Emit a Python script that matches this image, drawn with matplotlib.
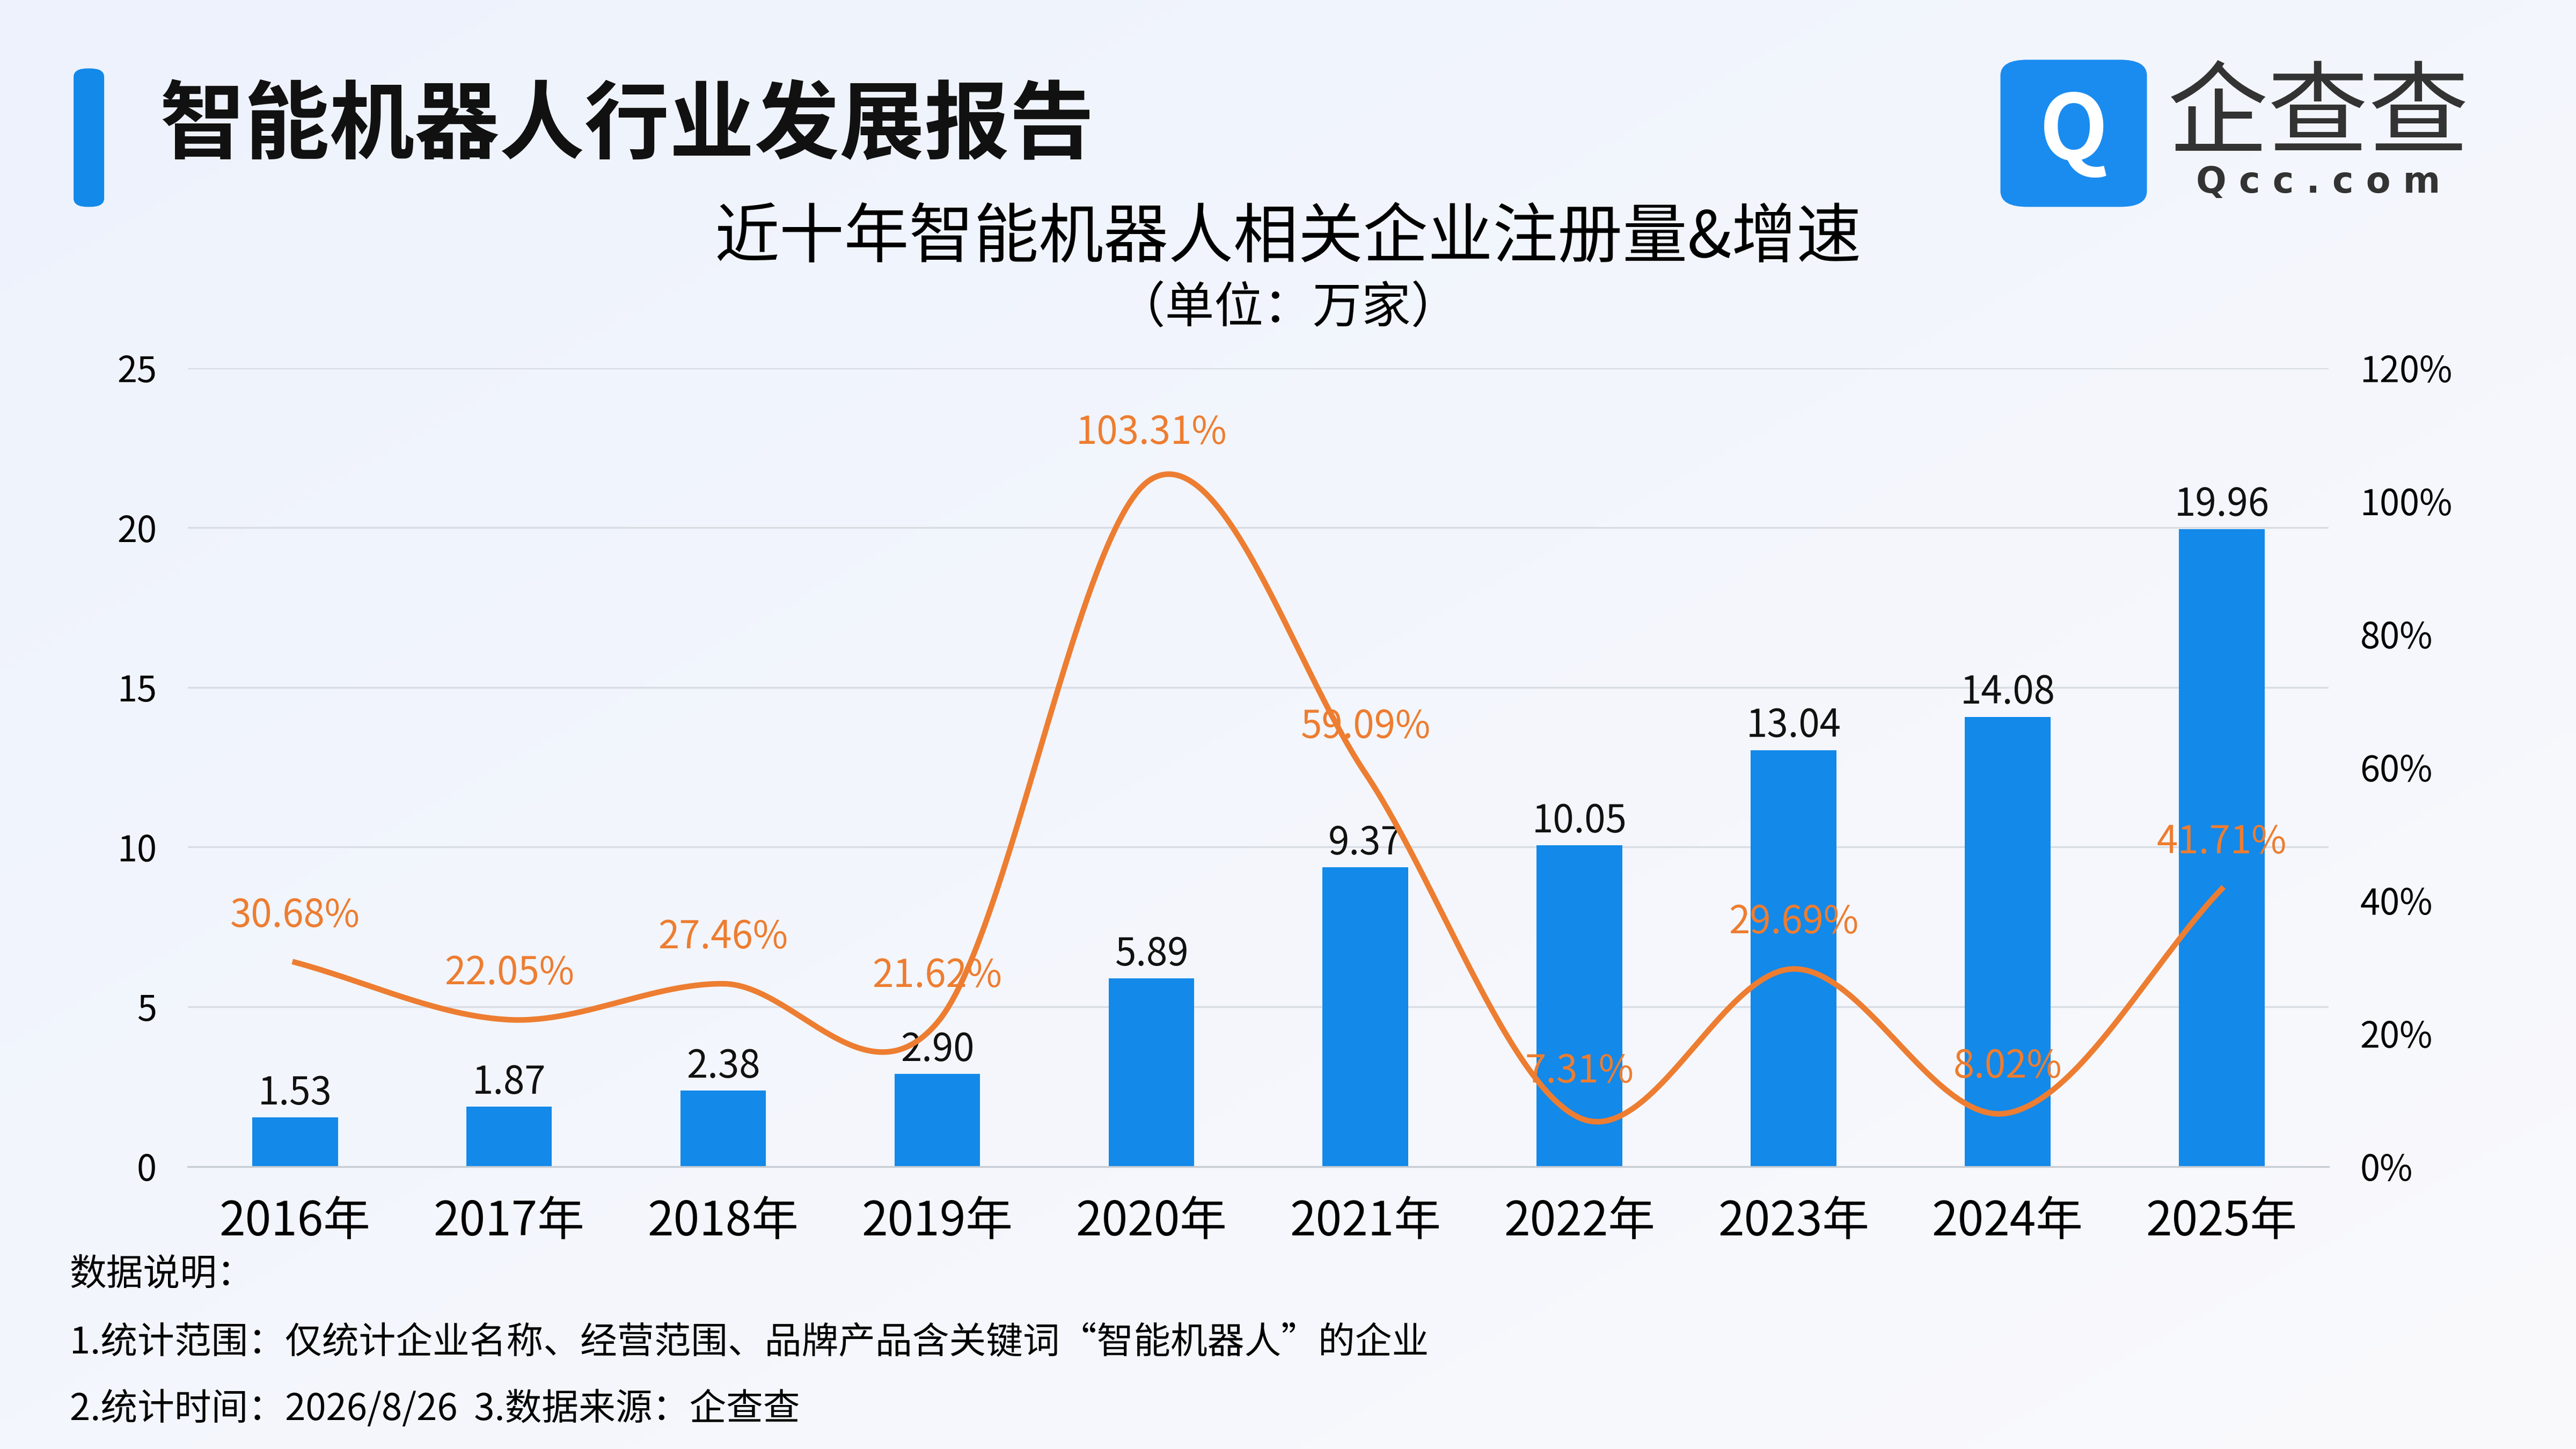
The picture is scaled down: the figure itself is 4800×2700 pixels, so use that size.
import matplotlib
matplotlib.use('Agg')
import matplotlib.pyplot as plt
from matplotlib.patches import FancyBboxPatch
import numpy as np

plt.rcParams['font.family'] = ['Noto Sans CJK SC', 'DejaVu Sans']

years = ['2016年', '2017年', '2018年', '2019年', '2020年', '2021年', '2022年', '2023年', '2024年', '2025年']
counts = [1.53, 1.87, 2.38, 2.90, 5.89, 9.37, 10.05, 13.04, 14.08, 19.96]
growth = [30.68, 22.05, 27.46, 21.62, 103.31, 59.09, 7.31, 29.69, 8.02, 41.71]

BAR = '#1389E9'
LINE = '#ED7D31'


def catmull_rom(x, y, steps=60):
    # smooth curve through the points (display only)
    p = np.column_stack([x, y]).astype(float)
    p = np.vstack([p[0] - (p[1] - p[0]), p, p[-1] + (p[-1] - p[-2])])
    t = np.linspace(0, 1, steps)[:, None]
    out = []
    for i in range(1, len(p) - 2):
        p0, p1, p2, p3 = p[i - 1], p[i], p[i + 1], p[i + 2]
        seg = 0.5 * ((2 * p1) + (-p0 + p2) * t + (2 * p0 - 5 * p1 + 4 * p2 - p3) * t ** 2
                     + (-p0 + 3 * p1 - 3 * p2 + p3) * t ** 3)
        out.append(seg)
    out = np.vstack(out)
    return out[:, 0], out[:, 1]


fig = plt.figure(figsize=(16, 9), dpi=300)
# background gradient
bg = fig.add_axes([0, 0, 1, 1], zorder=-10)
gy, gx = np.mgrid[0:1:200j, 0:1:200j]
r = np.clip(0.5 * gx + 0.5 * (1 - gy), 0, 1)
img = np.dstack([0.93 + 0.05 * r, 0.95 + 0.03 * r, 0.99 + 0 * r])
bg.imshow(img, extent=[0, 1, 0, 1], aspect='auto', origin='lower')
bg.set_axis_off()

# header
fig.patches.append(FancyBboxPatch((0.029, 0.858), 0.011, 0.094, boxstyle='round,pad=0,rounding_size=0.005',
                                  transform=fig.transFigure, color=BAR))
fig.text(0.062, 0.912, '智能机器人行业发展报告', fontsize=38, fontweight='bold', va='center', color='#111111')
fig.patches.append(FancyBboxPatch((0.777, 0.858), 0.056, 0.1, boxstyle='round,pad=0,rounding_size=0.01',
                                  transform=fig.transFigure, color='#1a8cf0'))
fig.text(0.805, 0.908, 'Q', fontsize=40, fontweight='bold', color='white', ha='center', va='center')
fig.text(0.9, 0.92, '企查查', fontsize=45, color='#333333', ha='center', va='center')
fig.text(0.9, 0.874, 'Q c c . c o m', fontsize=16, color='#333333', ha='center', va='center',
         fontweight='bold', family=['DejaVu Sans'])

fig.text(0.5, 0.835, '近十年智能机器人相关企业注册量&增速', fontsize=29, ha='center', va='center')
fig.text(0.5, 0.787, '（单位：万家）', fontsize=22, ha='center', va='center')

ax = fig.add_axes([0.073, 0.195, 0.831, 0.551])
x = np.arange(len(years))
bars = ax.bar(x, counts, width=0.4, color=BAR, zorder=2)
ax.bar_label(bars, labels=[f'{v:.2f}' for v in counts], padding=2, fontsize=17, color='#111111')
ax.set_ylim(0, 25)
ax.set_yticks(range(0, 26, 5))
ax.set_xlim(-0.5, len(years) - 0.5)
ax.set_xticks(x, years, fontsize=21)
ax.tick_params(axis='y', labelsize=16, length=0, pad=14)
ax.tick_params(axis='x', length=0, pad=14)
ax.grid(axis='y', color='#d8dde4', linewidth=0.8, zorder=0)
for s in ax.spines.values():
    s.set_visible(False)
ax.spines['bottom'].set_visible(True)
ax.spines['bottom'].set_color('#c8cdd4')
ax.set_facecolor('none')

ax2 = ax.twinx()
xs, ys = catmull_rom(x, growth)
ax2.plot(xs, ys, color=LINE, linewidth=2.5, zorder=3)
ax2.set_ylim(0, 120)
ax2.set_yticks(range(0, 121, 20), [f'{v}%' for v in range(0, 121, 20)])
ax2.tick_params(axis='y', labelsize=16, length=0, pad=14)
for s in ax2.spines.values():
    s.set_visible(False)
for xi, g in zip(x, growth):
    ax2.annotate(f'{g:.2f}%', (xi, g), xytext=(0, 12), textcoords='offset points',
                 ha='center', va='bottom', fontsize=17, color=LINE, zorder=4)

fig.text(0.027, 0.12, '数据说明：', fontsize=16.5, va='center')
fig.text(0.027, 0.073, '1.统计范围：仅统计企业名称、经营范围、品牌产品含关键词“智能机器人”的企业', fontsize=16.5, va='center')
fig.text(0.027, 0.027, '2.统计时间：2026/8/26  3.数据来源：企查查', fontsize=16.5, va='center')

fig.savefig('out.png', dpi=300)
